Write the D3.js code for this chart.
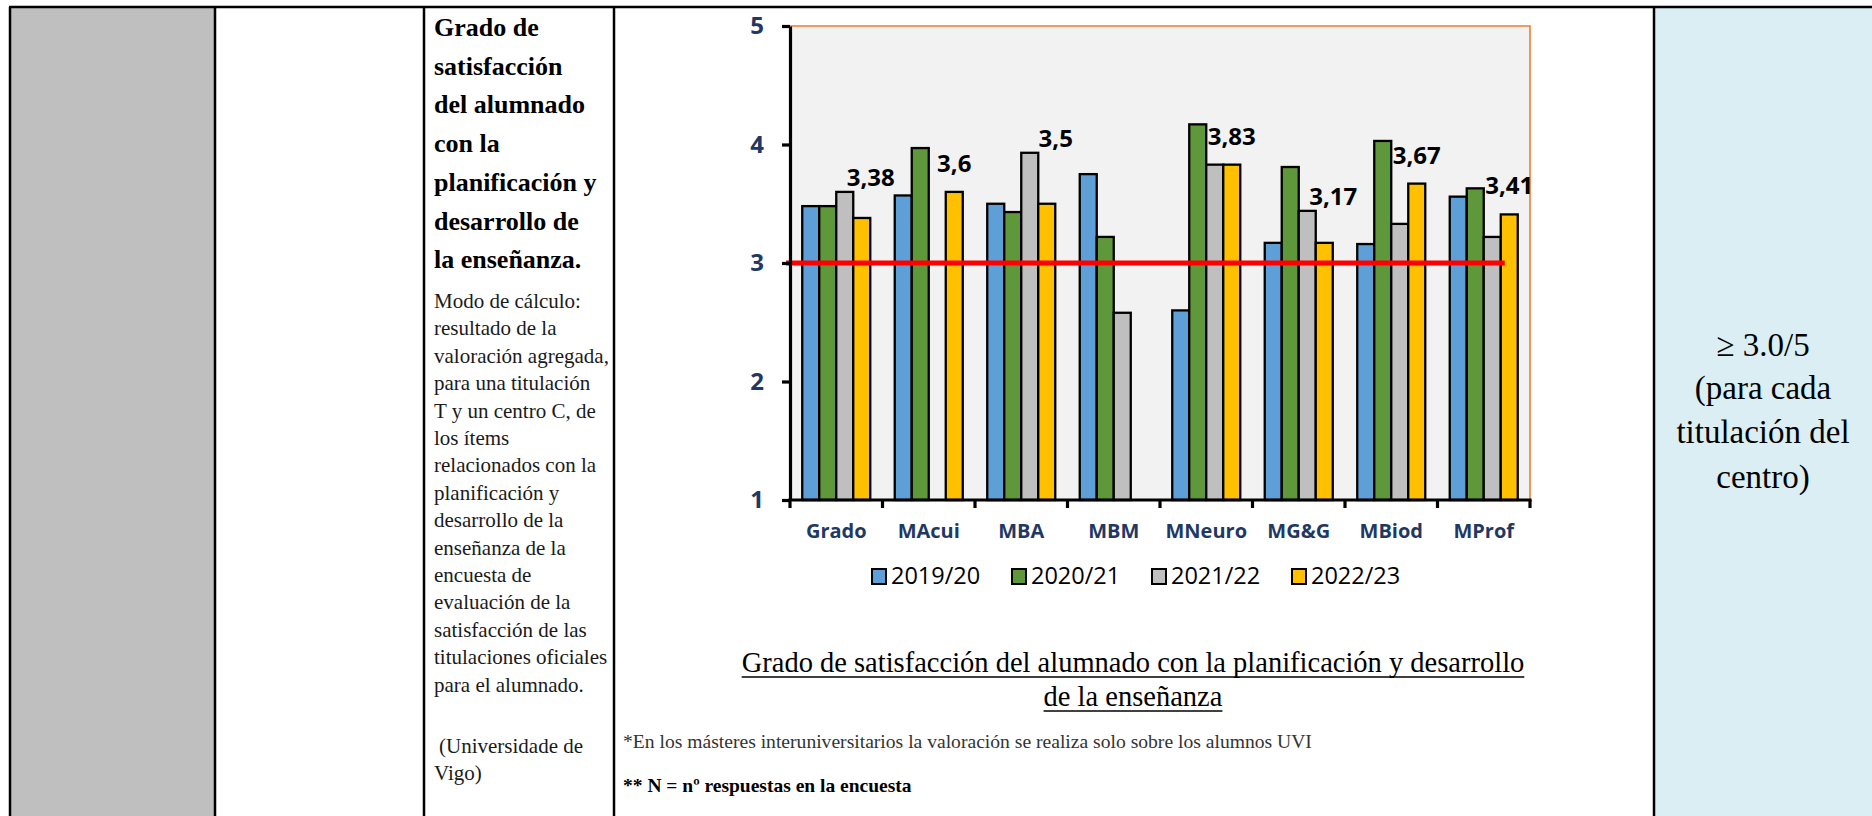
<!DOCTYPE html>
<html>
<head>
<meta charset="utf-8">
<script src="https://cdn.jsdelivr.net/npm/d3@7"></script>
<style>
	body { margin: 0; background: #fff; }
	svg { display: block; }
</style>
</head>
<body>
<div id="page"></div>
<script>
// chart data
const categories = ['Grado', 'MAcui', 'MBA', 'MBM', 'MNeuro', 'MG&G', 'MBiod', 'MProf'];
const years = ['2019/20', '2020/21', '2021/22', '2022/23'];
const values2019 = [3.48, 3.57, 3.5, 3.75, 2.6, 3.17, 3.16, 3.56];
const values2020 = [3.48, 3.97, 3.43, 3.22, 4.17, 3.81, 4.03, 3.63];
const values2021 = [3.6, null, 3.93, 2.58, 3.83, 3.44, 3.33, 3.22];
const values2022 = [3.38, 3.6, 3.5, null, 3.83, 3.17, 3.67, 3.41];
const yTicks = [1, 2, 3, 4, 5];
const target = 3;

// table texts
const headingLines = ['Grado de', 'satisfacción', 'del alumnado', 'con la', 'planificación y', 'desarrollo de', 'la enseñanza.'];
const methodLines = [
	'Modo de cálculo:', 'resultado de la', 'valoración agregada,', 'para una titulación',
	'T y un centro C, de', 'los ítems', 'relacionados con la', 'planificación y',
	'desarrollo de la', 'enseñanza de la', 'encuesta de', 'evaluación de la',
	'satisfacción de las', 'titulaciones oficiales', 'para el alumnado.',
];
const sourceLines = ['(Universidade de', 'Vigo)'];
const goalLines = ['≥ 3.0/5', '(para cada', 'titulación del', 'centro)'];
const chartTitleLines = ['Grado de satisfacción del alumnado con la planificación y desarrollo', 'de la enseñanza'];
const noteLines = ['*En los másteres interuniversitarios la valoración se realiza solo sobre los alumnos UVI', '** N = nº respuestas en la encuesta'];

const series = years.map((year, i) => ({
	year,
	values: [values2019, values2020, values2021, values2022][i],
}));

const width = 1872;
const height = 816;
const serif = '"Liberation Serif", "Times New Roman", serif';
const sans = '"Open Sans", "Liberation Sans", sans-serif';

const svg = d3.select('#page').append('svg').attr('width', width).attr('height', height);

// Table background and borders
const cols = [10, 215, 424, 614, 1654];
const tableTop = 7;

svg.append('rect').attr('x', cols[0]).attr('y', tableTop).attr('width', cols[1] - cols[0]).attr('height', height).attr('fill', '#bfbfbf');
svg.append('rect').attr('x', cols[4]).attr('y', tableTop).attr('width', width - cols[4]).attr('height', height).attr('fill', '#daeef3');

svg.append('line')
	.attr('x1', cols[0] - 1)
	.attr('x2', width)
	.attr('y1', tableTop)
	.attr('y2', tableTop)
	.attr('stroke', '#000')
	.attr('stroke-width', 2.5);

svg.append('g')
	.selectAll('line')
	.data(cols)
	.join('line')
	.attr('x1', (d) => d)
	.attr('x2', (d) => d)
	.attr('y1', tableTop)
	.attr('y2', height)
	.attr('stroke', '#000')
	.attr('stroke-width', 2.5);

// Column 3 texts
svg.append('g')
	.selectAll('text')
	.data(headingLines)
	.join('text')
	.attr('x', 434)
	.attr('y', (d, i) => 36 + i * 38.7)
	.style('font', `bold 26px ${serif}`)
	.attr('fill', '#000')
	.text((d) => d);

svg.append('g')
	.selectAll('text')
	.data(methodLines)
	.join('text')
	.attr('x', 434)
	.attr('y', (d, i) => 308 + i * 27.4)
	.style('font', `21px ${serif}`)
	.attr('fill', '#1a1a1a')
	.text((d) => d);

svg.append('g')
	.selectAll('text')
	.data(sourceLines)
	.join('text')
	.attr('x', (d, i) => (i === 0 ? 439 : 434))
	.attr('y', (d, i) => 753 + i * 26.7)
	.style('font', `21px ${serif}`)
	.attr('fill', '#1a1a1a')
	.text((d) => d);

// Goal column
svg.append('g')
	.selectAll('text')
	.data(goalLines)
	.join('text')
	.attr('x', (cols[4] + width) / 2)
	.attr('y', (d, i) => (i === 0 ? 356 : 354 + i * 44.5))
	.attr('text-anchor', 'middle')
	.style('font', `33px ${serif}`)
	.attr('fill', '#000')
	.text((d) => d);

// ---- Chart ----
const plot = { left: 790, right: 1530, top: 26, bottom: 500 };

const x0 = d3.scaleBand().domain(categories).range([plot.left, plot.right]);
const x1 = d3.scaleBand().domain(years).range([0, x0.bandwidth()]).paddingInner(0).paddingOuter(0.72);
const y = d3.scaleLinear().domain([1, 5]).range([plot.bottom, plot.top]);

const color = d3.scaleOrdinal().domain(years).range(['#5e9fd8', '#5f973b', '#bfbfbf', '#ffc000']);

const chart = svg.append('g');

chart.append('rect')
	.attr('x', plot.left)
	.attr('y', plot.top)
	.attr('width', plot.right - plot.left)
	.attr('height', plot.bottom - plot.top)
	.attr('fill', '#f2f2f2');

chart.append('path')
	.attr('d', `M${plot.left},${plot.top}H${plot.right}V${plot.bottom}`)
	.attr('fill', 'none')
	.attr('stroke', '#ed7d31')
	.attr('stroke-width', 1.6);

// bars
chart.append('g')
	.selectAll('g')
	.data(series)
	.join('g')
	.attr('fill', (d) => color(d.year))
	.selectAll('rect')
	.data((s) => s.values.map((v, i) => ({ cat: categories[i], year: s.year, v })).filter((d) => d.v != null))
	.join('rect')
	.attr('x', (d) => x0(d.cat) + x1(d.year))
	.attr('y', (d) => y(d.v))
	.attr('width', x1.bandwidth())
	.attr('height', (d) => y(1) - y(d.v))
	.attr('stroke', '#000')
	.attr('stroke-width', 2.3);

// target line
chart.append('line')
	.attr('x1', plot.left - 4)
	.attr('x2', x0('MProf') + x1('2022/23') + 4)
	.attr('y1', y(target))
	.attr('y2', y(target))
	.attr('stroke', '#ff0000')
	.attr('stroke-width', 5);

// y axis
const yAxis = chart.append('g')
	.attr('transform', `translate(${plot.left},0)`)
	.call(d3.axisLeft(y).tickValues(yTicks).tickFormat(d3.format('d')).tickSize(8).tickSizeOuter(0).tickPadding(18));
yAxis.select('.domain').attr('stroke', '#000').attr('stroke-width', 3.2);
yAxis.selectAll('line').attr('stroke', '#000').attr('stroke-width', 3.2);
yAxis.selectAll('text').style('font', `bold 24px ${sans}`).attr('fill', '#1f3864');

// x axis
const xAxis = chart.append('g')
	.attr('transform', `translate(0,${plot.bottom})`)
	.call(d3.axisBottom(x0).tickSize(0).tickSizeOuter(0));
xAxis.select('.domain').attr('stroke', '#000').attr('stroke-width', 3.2).attr('d', `M${plot.left - 1.6},0H${plot.right + 1.6}`);
xAxis.selectAll('text').attr('y', 38).attr('dy', 0).style('font', `bold 20px ${sans}`).attr('fill', '#1f3864');

xAxis.append('g')
	.selectAll('line')
	.data(categories.map((c) => x0(c)).concat([x0.range()[1]]))
	.join('line')
	.attr('x1', (d) => d)
	.attr('x2', (d) => d)
	.attr('y1', 0)
	.attr('y2', 8)
	.attr('stroke', '#000')
	.attr('stroke-width', 3.2);

// data labels on the last series
const fmt = (v) => String(v).replace('.', ',');
chart.append('g')
	.selectAll('text')
	.data(values2022.map((v, i) => ({ cat: categories[i], v, prev: values2021[i] })).filter((d) => d.v != null))
	.join('text')
	.attr('x', (d) => x0(d.cat) + x1('2022/23') + x1.bandwidth() / 2 + (d.prev != null && d.prev > d.v ? 9 : 0))
	.attr('y', (d) => {
		let base = y(d.v) - 20;
		if (d.prev != null && d.prev > d.v) base = Math.min(base, y(d.prev) - 6);
		return base;
	})
	.attr('text-anchor', 'middle')
	.style('font', `bold 24px ${sans}`)
	.attr('fill', '#000')
	.text((d) => fmt(d.v));

// legend
const legend = chart.append('g')
	.selectAll('g')
	.data(years)
	.join('g')
	.attr('transform', (d, i) => `translate(${872 + i * 140},569)`);

legend.append('rect')
	.attr('width', 14)
	.attr('height', 15)
	.attr('fill', color)
	.attr('stroke', '#000')
	.attr('stroke-width', 2);

legend.append('text')
	.attr('x', 19)
	.attr('y', 15)
	.style('font', `23.5px ${sans}`)
	.attr('fill', '#000')
	.text((d) => d);

// chart title (underlined)
const titleCx = 1133;
chart.append('g')
	.selectAll('text')
	.data(chartTitleLines)
	.join('text')
	.attr('x', titleCx)
	.attr('y', (d, i) => 672 + i * 34)
	.attr('text-anchor', 'middle')
	.style('font', `28.5px ${serif}`)
	.attr('fill', '#000')
	.text((d) => d)
	.each(function (d, i) {
		const w = this.getComputedTextLength();
		chart.append('line')
			.attr('x1', titleCx - w / 2)
			.attr('x2', titleCx + w / 2)
			.attr('y1', 677 + i * 34)
			.attr('y2', 677 + i * 34)
			.attr('stroke', '#000')
			.attr('stroke-width', 1.6);
	});

// notes
chart.append('text')
	.attr('x', 623)
	.attr('y', 748)
	.style('font', `19.6px ${serif}`)
	.attr('fill', '#333')
	.text(noteLines[0]);

chart.append('text')
	.attr('x', 623)
	.attr('y', 792)
	.style('font', `bold 19.5px ${serif}`)
	.attr('fill', '#000')
	.text(noteLines[1]);
</script>
</body>
</html>
